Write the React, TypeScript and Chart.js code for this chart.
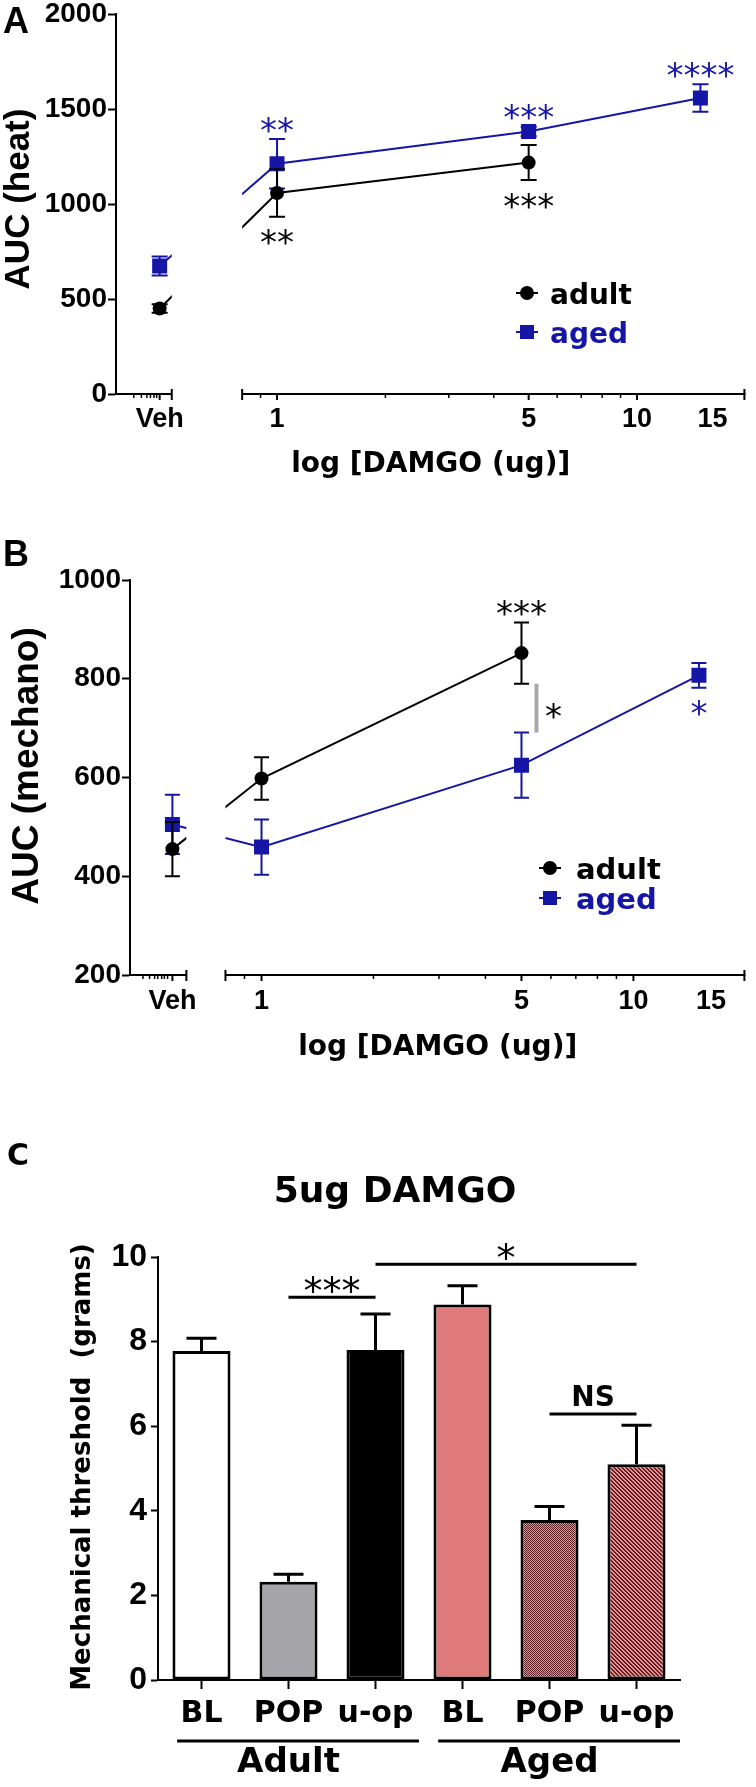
import React, { useEffect, useRef } from 'react';
import { Chart, registerables } from 'chart.js';

Chart.register(...registerables);

const ARIAL = "'Liberation Sans', Arial, Helvetica, sans-serif";
const VERDANA = "'DejaVu Sans', Verdana, sans-serif";
const BLUE = '#1616a6';
const W = 756;

// ---------------- data ----------------
const adultDoses: (string | number)[] = ['Veh', 1, 5];
const agedDoses: (string | number)[] = ['Veh', 1, 5, 15];

// Panel A: AUC (heat)
const adultHeat = [450, 1058, 1218];
const adultHeatErr = [22, 125, 92];
const agedHeat = [674, 1212, 1382, 1558];
const agedHeatErr = [50, 130, 25, 72];

// Panel B: AUC (mechano)
const adultMech = [455, 598, 852];
const adultMechErr = [55, 43, 62];
const agedMech = [505, 459, 625, 807];
const agedMechErr = [60, 56, 66, 25];

const doseTickValues: (string | number)[] = ['Veh', 1, 5, 10, 15];
const doseTickLabels = ['Veh', '1', '5', '10', '15'];
const doseMajorTicks = [1, 5, 10];
const doseMinorTicks = [0.9, 2, 3, 4, 6, 7, 8, 9];

type Star = { series: number; dose: number; text: string; side: 'above' | 'below' };
const heatStars: Star[] = [
  { series: 1, dose: 1, text: '**', side: 'above' },
  { series: 0, dose: 1, text: '**', side: 'below' },
  { series: 1, dose: 5, text: '***', side: 'above' },
  { series: 0, dose: 5, text: '***', side: 'below' },
  { series: 1, dose: 15, text: '****', side: 'above' },
];
const mechStars: Star[] = [
  { series: 0, dose: 5, text: '***', side: 'above' },
  { series: 1, dose: 15, text: '*', side: 'below' },
];

// Panel C: 5ug DAMGO
const barCategories = ['BL', 'POP', 'u-op', 'BL', 'POP', 'u-op'];
const barGroups = ['Adult', 'Aged'];
const barValues = [7.78, 2.32, 7.8, 8.88, 3.78, 5.1];
const barErrors = [0.3, 0.18, 0.85, 0.44, 0.32, 0.92];
const barComparisons = [
  { from: 1, to: 2, y: 9.05, text: '***' },
  { from: 2, to: 5, y: 9.83, text: '*' },
  { from: 4, to: 5, y: 6.29, text: 'NS' },
];

// ---------------- helpers ----------------
function makePattern(kind: 'check' | 'stripe'): CanvasPattern | string {
  const size = kind === 'check' ? 2 : 4;
  const c = document.createElement('canvas');
  c.width = size;
  c.height = size;
  const ctx = c.getContext('2d');
  if (!ctx) return '#a05050';
  const img = ctx.createImageData(size, size);
  for (let y = 0; y < size; y++) {
    for (let x = 0; x < size; x++) {
      const dark = kind === 'check' ? (x + y) % 2 === 0 : ((x - y + 8) % 4) < 2;
      const o = (y * size + x) * 4;
      const col = dark ? [96, 32, 36] : [232, 142, 142];
      img.data[o] = col[0];
      img.data[o + 1] = col[1];
      img.data[o + 2] = col[2];
      img.data[o + 3] = 255;
    }
  }
  ctx.putImageData(img, 0, 0);
  return ctx.createPattern(c, 'repeat') || '#a05050';
}

interface LinePanel {
  letter: string;
  H: number; left: number; right: number; top: number; bottom: number;
  xMin: number; xMax: number; vehX: number; vehEnd: number; segStart: number;
  vehMinor: number[];
  yMin: number; yMax: number; yStep: number;
  adult: number[]; adultErr: number[]; aged: number[]; agedErr: number[];
  stars: Star[];
  letterY: number;
  yTitle: string; yTitleSize: number; yTitleX: number; yTitleY: number;
  legendX: number; legendY: number; legendGap: number; legendSize: number; legendDx: number;
  labelDy: number; titleDy: number; cap: number; sig: boolean;
}

const PANEL_A: LinePanel = {
  letter: 'A', H: 500, left: 116, right: 749, top: 14, bottom: 394,
  xMin: 0.357, xMax: 20, vehX: 0.472, vehEnd: 0.51, segStart: 0.8,
  vehMinor: [0.4, 0.42, 0.435, 0.445, 0.455, 0.463],
  yMin: 0, yMax: 2000, yStep: 500,
  adult: adultHeat, adultErr: adultHeatErr, aged: agedHeat, agedErr: agedHeatErr,
  stars: heatStars, letterY: 33,
  yTitle: 'AUC (heat)', yTitleSize: 35, yTitleX: 19, yTitleY: 199,
  legendX: 527, legendY: 293, legendGap: 39, legendSize: 28, legendDx: 23,
  labelDy: 33, titleDy: 78, cap: 8, sig: false,
};

const PANEL_B: LinePanel = {
  letter: 'B', H: 550, left: 130, right: 751, top: 50, bottom: 445,
  xMin: 0.443, xMax: 20, vehX: 0.576, vehEnd: 0.628, segStart: 0.8,
  vehMinor: [0.48, 0.5, 0.516, 0.526, 0.539, 0.548, 0.559],
  yMin: 200, yMax: 1000, yStep: 200,
  adult: adultMech, adultErr: adultMechErr, aged: agedMech, agedErr: agedMechErr,
  stars: mechStars, letterY: 36,
  yTitle: 'AUC (mechano)', yTitleSize: 37, yTitleX: 28, yTitleY: 236,
  legendX: 550, legendY: 338, legendGap: 30, legendSize: 29, legendDx: 26,
  labelDy: 34, titleDy: 80, cap: 7.5, sig: true,
};

function drawStarText(ctx: CanvasRenderingContext2D, text: string, x: number, cy: number, size: number, color: string) {
  ctx.font = `${size}px ${VERDANA}`;
  ctx.fillStyle = color;
  ctx.textAlign = 'center';
  ctx.textBaseline = 'alphabetic';
  ctx.fillText(text, x, cy + size * 0.58);
}

function buildLine(canvas: HTMLCanvasElement, p: LinePanel): Chart {
  const toX = (d: string | number) => (d === 'Veh' ? p.vehX : (d as number));
  const series = [
    { name: 'adult', doses: adultDoses, vals: p.adult, errs: p.adultErr, color: '#000000', style: 'circle' },
    { name: 'aged', doses: agedDoses, vals: p.aged, errs: p.agedErr, color: BLUE, style: 'rect' },
  ];

  const plugin = {
    id: 'panel' + p.letter,
    afterDatasetDraw(chart: any, args: any) {
      const s = series[args.index];
      const meta = args.meta;
      const ys = chart.scales.y;
      const ctx: CanvasRenderingContext2D = chart.ctx;
      ctx.save();
      ctx.strokeStyle = s.color;
      ctx.lineWidth = 2;
      s.vals.forEach((v, i) => {
        const x = meta.data[i].x;
        const t = ys.getPixelForValue(v + s.errs[i]);
        const b = ys.getPixelForValue(v - s.errs[i]);
        ctx.beginPath();
        ctx.moveTo(x, t); ctx.lineTo(x, b);
        ctx.moveTo(x - p.cap, t); ctx.lineTo(x + p.cap, t);
        ctx.moveTo(x - p.cap, b); ctx.lineTo(x + p.cap, b);
        ctx.stroke();
      });
      ctx.restore();
    },
    afterDatasetsDraw(chart: any) {
      const xs = chart.scales.x;
      const a = chart.chartArea;
      const ctx: CanvasRenderingContext2D = chart.ctx;
      const x1 = xs.getPixelForValue(p.vehEnd);
      const x2 = xs.getPixelForValue(p.segStart);
      ctx.save();
      ctx.fillStyle = '#ffffff';
      ctx.fillRect(x1, a.top - 2, x2 - x1, a.bottom - a.top + 1);
      ctx.restore();
    },
    afterDraw(chart: any) {
      const xs = chart.scales.x;
      const ys = chart.scales.y;
      const a = chart.chartArea;
      const ctx: CanvasRenderingContext2D = chart.ctx;
      const px = (v: number) => xs.getPixelForValue(v);
      const y0 = a.bottom;
      ctx.save();
      ctx.strokeStyle = '#000';
      ctx.lineWidth = 2;
      // broken x axis
      ctx.beginPath();
      ctx.moveTo(a.left, y0); ctx.lineTo(px(p.vehEnd), y0);
      ctx.moveTo(px(p.segStart), y0); ctx.lineTo(a.right, y0);
      ctx.stroke();
      ctx.beginPath();
      [px(p.vehEnd), px(p.segStart), a.right - 1].forEach((x) => {
        ctx.moveTo(x, y0 - 5); ctx.lineTo(x, y0 + 6);
      });
      [p.vehX, ...doseMajorTicks].forEach((v) => {
        ctx.moveTo(px(v), y0); ctx.lineTo(px(v), y0 + 6);
      });
      ctx.stroke();
      ctx.lineWidth = 1.5;
      ctx.beginPath();
      [...p.vehMinor, ...doseMinorTicks].forEach((v) => {
        ctx.moveTo(px(v), y0); ctx.lineTo(px(v), y0 + 4);
      });
      ctx.stroke();

      // x tick labels
      ctx.fillStyle = '#000';
      ctx.font = `bold 27px ${ARIAL}`;
      ctx.textAlign = 'center';
      ctx.textBaseline = 'alphabetic';
      doseTickValues.forEach((d, i) => {
        const lbl = doseTickLabels[i];
        const dx = lbl === '15' ? 12 : 0;
        ctx.fillText(lbl, px(toX(d)) + dx, y0 + p.labelDy);
      });
      // x title
      ctx.font = `bold 28px ${VERDANA}`;
      ctx.fillText('log [DAMGO (ug)]', (a.left + a.right) / 2, y0 + p.titleDy);

      // y title
      ctx.save();
      ctx.translate(p.yTitleX, p.yTitleY);
      ctx.rotate(-Math.PI / 2);
      ctx.font = `bold ${p.yTitleSize}px ${ARIAL}`;
      ctx.textAlign = 'center';
      ctx.textBaseline = 'middle';
      ctx.fillText(p.yTitle, 0, 0);
      ctx.restore();

      // panel letter
      ctx.font = `bold 36px ${ARIAL}`;
      ctx.textAlign = 'left';
      ctx.fillText(p.letter, 3, p.letterY);

      // legend
      series.forEach((s, k) => {
        const lx = p.legendX;
        const ly = p.legendY + k * p.legendGap;
        ctx.strokeStyle = s.color;
        ctx.fillStyle = s.color;
        ctx.lineWidth = 2;
        ctx.beginPath();
        ctx.moveTo(lx - 11, ly); ctx.lineTo(lx + 11, ly);
        ctx.stroke();
        ctx.beginPath();
        if (s.style === 'circle') {
          ctx.arc(lx, ly, 7, 0, Math.PI * 2);
        } else {
          ctx.rect(lx - 7, ly - 7, 14, 14);
        }
        ctx.fill();
        ctx.font = `bold ${p.legendSize}px ${VERDANA}`;
        ctx.textAlign = 'left';
        ctx.textBaseline = 'alphabetic';
        ctx.fillText(s.name, lx + p.legendDx, ly + 11);
      });

      // significance stars
      p.stars.forEach((st) => {
        const s = series[st.series];
        const i = s.doses.indexOf(st.dose);
        const v = s.vals[i];
        const e = s.errs[i];
        const x = px(st.dose);
        const cy = st.side === 'above' ? ys.getPixelForValue(v + e) - 17 : ys.getPixelForValue(v - e) + 18;
        drawStarText(ctx, st.text, x, cy, 34, s.color);
      });

      // adult vs aged comparison bar at 5 ug
      if (p.sig) {
        const i = adultDoses.indexOf(5);
        const j = agedDoses.indexOf(5);
        const x = px(5) + 15;
        const yt = ys.getPixelForValue(p.adult[i] - p.adultErr[i]);
        const yb = ys.getPixelForValue(p.aged[j] + p.agedErr[j]);
        ctx.strokeStyle = '#a8a8a8';
        ctx.lineWidth = 4;
        ctx.beginPath();
        ctx.moveTo(x, yt); ctx.lineTo(x, yb);
        ctx.stroke();
        drawStarText(ctx, '*', x + 17, (yt + yb) / 2, 34, '#000');
      }
      ctx.restore();
    },
  };

  return new Chart(canvas, {
    type: 'line',
    data: {
      datasets: series.map((s) => ({
        label: s.name,
        data: s.doses.map((d, i) => ({ x: toX(d), y: s.vals[i] })),
        borderColor: s.color,
        backgroundColor: s.color,
        pointBackgroundColor: s.color,
        pointBorderColor: s.color,
        pointBorderWidth: 0,
        pointStyle: s.style as any,
        pointRadius: s.style === 'rect' ? 10.6 : 7,
        borderWidth: 2,
        tension: 0,
      })),
    },
    options: {
      animation: false,
      responsive: false,
      events: [],
      layout: { padding: { left: 0, top: p.top, right: W - p.right, bottom: p.H - p.bottom } },
      plugins: { legend: { display: false }, tooltip: { enabled: false } },
      scales: {
        x: { type: 'logarithmic', min: p.xMin, max: p.xMax, display: false, bounds: 'data' },
        y: {
          min: p.yMin,
          max: p.yMax,
          ticks: {
            stepSize: p.yStep,
            color: '#000',
            padding: 1,
            font: { family: ARIAL, weight: 'bold', size: 28 },
            callback: (v: any) => String(v),
          },
          grid: { display: true, drawOnChartArea: false, tickLength: 8, tickWidth: 2, tickColor: '#000' },
          border: { display: true, color: '#000', width: 2 },
          afterFit: (s: any) => { s.width = p.left; s.paddingTop = 0; s.paddingBottom = 0; },
        },
      },
    } as any,
    plugins: [plugin as any],
  });
}

function buildBars(canvas: HTMLCanvasElement): Chart {
  const H = 657;
  const top = 127;
  const bottom = 550;
  const left = 158;
  const right = 680;
  const colors: (string | CanvasPattern)[] = ['#ffffff', '#a4a4a9', '#000000', '#e07b7b', makePattern('check'), makePattern('stripe')];

  const plugin = {
    id: 'panelC',
    afterDatasetsDraw(chart: any) {
      const meta = chart.getDatasetMeta(0);
      const ys = chart.scales.y;
      const ctx: CanvasRenderingContext2D = chart.ctx;
      ctx.save();
      ctx.strokeStyle = '#000';
      ctx.lineWidth = 3;
      barValues.forEach((v, i) => {
        const x = meta.data[i].x;
        const y1 = ys.getPixelForValue(v);
        const y2 = ys.getPixelForValue(v + barErrors[i]);
        ctx.beginPath();
        ctx.moveTo(x, y1); ctx.lineTo(x, y2);
        ctx.moveTo(x - 15, y2); ctx.lineTo(x + 15, y2);
        ctx.stroke();
      });
      ctx.restore();
    },
    afterDraw(chart: any) {
      const xs = chart.scales.x;
      const ys = chart.scales.y;
      const a = chart.chartArea;
      const ctx: CanvasRenderingContext2D = chart.ctx;
      const cx = (i: number) => xs.getPixelForValue(i);
      const catW = cx(1) - cx(0);
      ctx.save();
      ctx.fillStyle = '#000';
      ctx.strokeStyle = '#000';

      // comparisons
      barComparisons.forEach((c) => {
        const y = ys.getPixelForValue(c.y);
        ctx.lineWidth = 3;
        ctx.beginPath();
        ctx.moveTo(cx(c.from), y); ctx.lineTo(cx(c.to), y);
        ctx.stroke();
        const mx = (cx(c.from) + cx(c.to)) / 2;
        if (c.text === 'NS') {
          ctx.font = `bold 28px ${VERDANA}`;
          ctx.textAlign = 'center';
          ctx.textBaseline = 'alphabetic';
          ctx.fillStyle = '#000';
          ctx.fillText(c.text, mx, y - 8);
        } else {
          drawStarText(ctx, c.text, mx, y - 15, 38, '#000');
        }
      });

      // group lines + labels
      barGroups.forEach((g, k) => {
        const first = k * 3;
        const last = k * 3 + 2;
        const x1 = cx(first) - 0.28 * catW;
        const x2 = cx(last) + 0.5 * catW;
        const y = a.bottom + 61;
        ctx.lineWidth = 3;
        ctx.beginPath();
        ctx.moveTo(x1, y); ctx.lineTo(x2, y);
        ctx.stroke();
        ctx.font = `bold 34px ${VERDANA}`;
        ctx.textAlign = 'center';
        ctx.textBaseline = 'alphabetic';
        ctx.fillStyle = '#000';
        ctx.fillText(g, cx(first + 1), a.bottom + 92);
      });

      // title, letter, y title
      ctx.font = `bold 36px ${VERDANA}`;
      ctx.textAlign = 'center';
      ctx.fillText('5ug DAMGO', 395, 72);
      ctx.font = `bold 30px ${VERDANA}`;
      ctx.textAlign = 'left';
      ctx.fillText('C', 7, 35);
      ctx.save();
      ctx.translate(83, 337);
      ctx.rotate(-Math.PI / 2);
      ctx.font = `bold 26px ${VERDANA}`;
      ctx.textAlign = 'center';
      ctx.textBaseline = 'middle';
      ctx.fillText('Mechanical threshold  (grams)', 0, 0);
      ctx.restore();
      ctx.restore();
    },
  };

  return new Chart(canvas, {
    type: 'bar',
    data: {
      labels: barCategories,
      datasets: [
        {
          data: barValues,
          backgroundColor: colors as any,
          borderColor: '#000',
          borderWidth: 3,
          borderSkipped: false,
          barPercentage: 0.667,
          categoryPercentage: 1,
        },
      ],
    },
    options: {
      animation: false,
      responsive: false,
      events: [],
      layout: { padding: { left: 0, top, right: W - right, bottom: 0 } },
      plugins: { legend: { display: false }, tooltip: { enabled: false } },
      scales: {
        x: {
          grid: { display: true, drawOnChartArea: false, offset: false, tickLength: 9, tickWidth: 2, tickColor: '#000', color: '#000' },
          border: { display: true, color: '#000', width: 2 },
          ticks: { color: '#000', padding: 7, maxRotation: 0, autoSkip: false, font: { family: VERDANA, weight: 'bold', size: 30 } },
          afterFit: (s: any) => { s.height = H - bottom; s.paddingLeft = 0; s.paddingRight = 0; },
        },
        y: {
          min: 0,
          max: 10,
          ticks: { stepSize: 2, color: '#000', padding: 4, font: { family: ARIAL, weight: 'bold', size: 32 } },
          grid: { display: true, drawOnChartArea: false, tickLength: 7, tickWidth: 2, tickColor: '#000' },
          border: { display: true, color: '#000', width: 2 },
          afterFit: (s: any) => { s.width = left; s.paddingTop = 0; s.paddingBottom = 0; },
        },
      },
    } as any,
    plugins: [plugin as any],
  });
}

export default function App() {
  const refA = useRef<HTMLCanvasElement>(null);
  const refB = useRef<HTMLCanvasElement>(null);
  const refC = useRef<HTMLCanvasElement>(null);

  useEffect(() => {
    const charts: Chart[] = [];
    if (refA.current) charts.push(buildLine(refA.current, PANEL_A));
    if (refB.current) charts.push(buildLine(refB.current, PANEL_B));
    if (refC.current) charts.push(buildBars(refC.current));
    return () => charts.forEach((c) => c.destroy());
  }, []);

  const cs: React.CSSProperties = { position: 'absolute', left: 0, display: 'block' };
  return (
    <div style={{ position: 'absolute', left: 0, top: 0, width: W, height: 1787, background: '#fff', overflow: 'hidden' }}>
      <canvas ref={refA} width={W} height={500} style={{ ...cs, top: 0, width: W, height: 500 }} />
      <canvas ref={refB} width={W} height={550} style={{ ...cs, top: 530, width: W, height: 550 }} />
      <canvas ref={refC} width={W} height={657} style={{ ...cs, top: 1130, width: W, height: 657 }} />
    </div>
  );
}
